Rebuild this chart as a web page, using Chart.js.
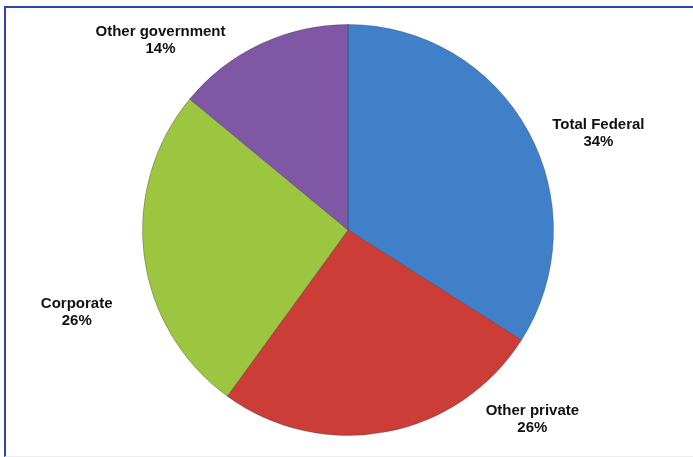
<!DOCTYPE html>
<html lang="en">
  <head>
    <meta charset="UTF-8" />
    <title>Funding sources</title>
    <style>
      body{
        margin: 0;
        background-color: white;
        overflow: hidden;
      }
      .frame{
        position: absolute;
        left: 4px;
        top: 6px;
        width: 689px;
        height: 451px;
        border-top: 2px solid #2b45b0;
        border-left: 2px solid #2b45b0;
        border-bottom: 1px solid #eeeeee;
        box-sizing: border-box;
      }
      .wrap{
        position: absolute;
        left: 0;
        top: 0;
        width: 693px;
        height: 457px;
      }
    </style>
    <script src="https://cdn.jsdelivr.net/npm/chart.js@4"></script>
  </head>
  <body>
    <div class="frame"></div>
    <div class="wrap"><canvas id="myChart"></canvas></div>

    <script>
      // slices, clockwise from 12 o'clock
      const labels = ['Total Federal', 'Other private', 'Corporate', 'Other government'];
      const shares = [34, 26, 26, 14];
      const colors = ['#4080c8', '#cc3d37', '#9dc640', '#7f57a5'];
      const edgeColors = ['#3468a6', '#a92f2b', '#86ad34', '#684687'];

      // where each label sits: angle (deg, clockwise from top) and distance in radii
      const labelAngle = [68.9, 135.8, 253.2, 315.3];
      const labelDist = [1.306, 1.287, 1.379, 1.297];

      function fill(ctx) {
        const arc = ctx.element;
        const i = ctx.dataIndex;
        if (!arc || !arc.outerRadius) return colors[i];
        const c = ctx.chart.ctx;
        const g = c.createRadialGradient(arc.x, arc.y, 0, arc.x, arc.y, arc.outerRadius);
        g.addColorStop(0, colors[i]);
        g.addColorStop(0.85, colors[i]);
        g.addColorStop(1, edgeColors[i]);
        return g;
      }

      const outsideLabels = {
        id: 'outsideLabels',
        afterDatasetsDraw(chart) {
          const meta = chart.getDatasetMeta(0);
          const arc = meta.data[0];
          const c = chart.ctx;
          c.save();
          c.font = 'bold 15px "Liberation Sans", Arial, sans-serif';
          c.fillStyle = '#111';
          c.textAlign = 'center';
          c.textBaseline = 'middle';
          labels.forEach((name, i) => {
            const a = labelAngle[i] * Math.PI / 180;
            const r = arc.outerRadius * labelDist[i];
            const x = arc.x + Math.sin(a) * r;
            const y = arc.y - Math.cos(a) * r;
            c.fillText(name, x, y - 8.5);
            c.fillText(shares[i] + '%', x, y + 8.5);
          });
          c.restore();
        }
      };

      const myChart = new Chart(document.getElementById('myChart'), {
        type: 'pie',
        data: {
          labels: labels,
          datasets: [{
            data: shares,
            backgroundColor: fill,
            borderColor: 'rgba(40,40,60,0.3)',
            borderWidth: 1
          }]
        },
        options: {
          responsive: true,
          maintainAspectRatio: false,
          animation: false,
          layout: { padding: { left: 142, right: 139, top: 24, bottom: 21 } },
          plugins: {
            legend: { display: false },
            tooltip: { enabled: false }
          }
        },
        plugins: [outsideLabels]
      });
    </script>
  </body>
</html>
